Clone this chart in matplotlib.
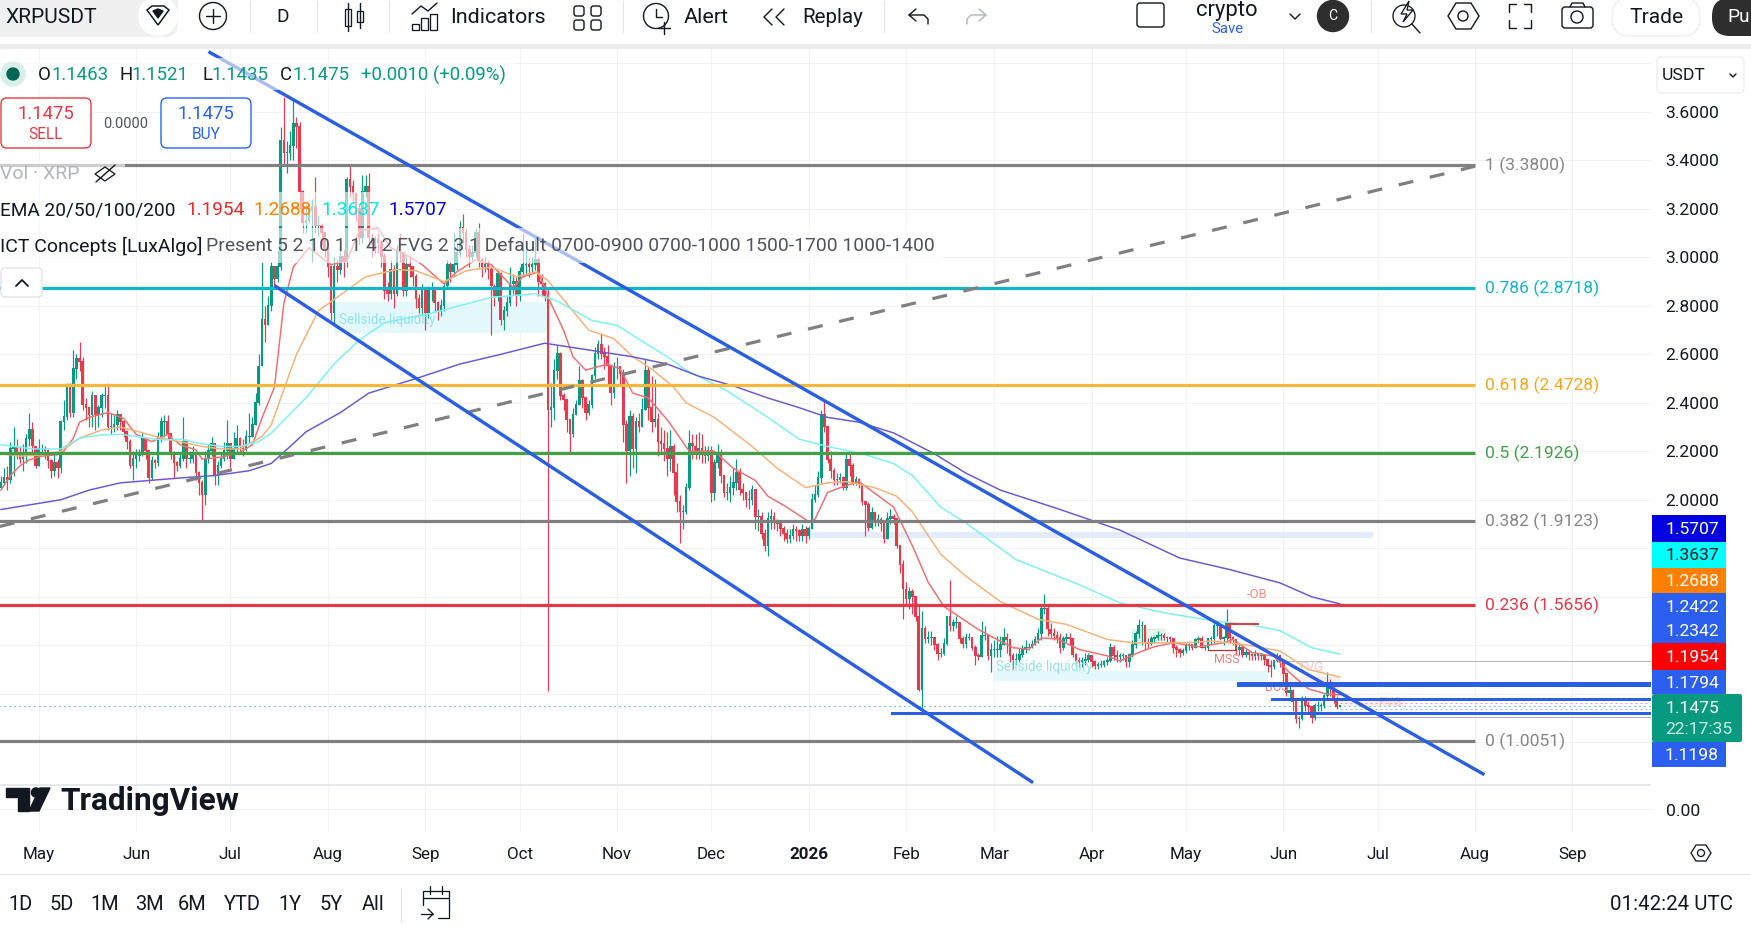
import numpy as np
from matplotlib import pyplot as plt
from matplotlib.patches import Circle, FancyBboxPatch, Polygon, Rectangle

plt.rcParams['font.family'] = ['Roboto', 'DejaVu Sans']

# daily closes / highs / lows, Apr 2025 to Jun 2026, one row of ten per line
close_a = [2.07, 2.09, 2.08, 2.21, 2.22, 2.19, 2.17, 2.19, 2.25, 2.29,
           2.22, 2.14, 2.21, 2.21, 2.20, 2.16, 2.12, 2.15, 2.13, 2.32,
           2.34, 2.47, 2.36, 2.54, 2.58, 2.57, 2.39, 2.38, 2.35, 2.43,
           2.35, 2.38, 2.43, 2.43, 2.30, 2.30, 2.31, 2.35, 2.32, 2.28,
           2.24, 2.14, 2.17, 2.18, 2.19, 2.25, 2.20, 2.09, 2.16, 2.15,
           2.26, 2.32, 2.32, 2.27, 2.19, 2.15, 2.14, 2.17, 2.24, 2.17,
           2.17, 2.18, 2.11, 2.07, 2.02, 2.17, 2.20, 2.23, 2.10, 2.14,
           2.17, 2.20, 2.23, 2.17, 2.21, 2.25, 2.22, 2.21, 2.26, 2.26,
           2.31, 2.40, 2.55]
high_a = [2.10, 2.13, 2.14, 2.24, 2.30, 2.25, 2.22, 2.23, 2.27, 2.36,
          2.32, 2.22, 2.25, 2.23, 2.22, 2.21, 2.17, 2.19, 2.17, 2.33,
          2.41, 2.48, 2.48, 2.62, 2.60, 2.65, 2.59, 2.42, 2.38, 2.45,
          2.43, 2.39, 2.44, 2.47, 2.48, 2.36, 2.35, 2.37, 2.35, 2.33,
          2.29, 2.25, 2.20, 2.21, 2.21, 2.28, 2.25, 2.20, 2.18, 2.17,
          2.28, 2.34, 2.35, 2.35, 2.27, 2.20, 2.16, 2.19, 2.34, 2.25,
          2.20, 2.22, 2.18, 2.12, 2.08, 2.20, 2.23, 2.26, 2.20, 2.16,
          2.19, 2.24, 2.33, 2.23, 2.28, 2.31, 2.26, 2.25, 2.29, 2.36,
          2.34, 2.44, 2.60]
low_a = [2.05, 2.06, 2.04, 2.07, 2.10, 2.17, 2.15, 2.12, 2.15, 2.22,
         2.19, 2.13, 2.16, 2.19, 2.17, 2.13, 2.09, 2.10, 2.09, 2.11,
         2.29, 2.33, 2.34, 2.34, 2.50, 2.53, 2.37, 2.33, 2.30, 2.30,
         2.29, 2.30, 2.34, 2.38, 2.29, 2.27, 2.28, 2.29, 2.29, 2.26,
         2.21, 2.13, 2.08, 2.13, 2.16, 2.18, 2.17, 2.07, 2.08, 2.13,
         2.14, 2.24, 2.26, 2.25, 2.17, 2.09, 2.12, 2.13, 2.16, 2.13,
         2.15, 2.15, 2.08, 2.02, 1.91, 1.98, 2.15, 2.18, 2.06, 2.06,
         2.13, 2.16, 2.17, 2.13, 2.17, 2.19, 2.19, 2.18, 2.20, 2.24,
         2.28, 2.31, 2.39]

close_b = [2.74, 2.72, 2.80, 2.96, 2.91, 2.96, 3.48, 3.43, 3.43, 3.46,
           3.55, 3.54, 3.27, 3.14, 3.15, 3.19, 3.21, 3.13, 3.13, 3.10,
           3.03, 2.96, 2.77, 2.96, 2.95, 3.00, 2.98, 3.32, 3.29, 3.26,
           3.20, 3.08, 3.27, 3.29, 3.08, 3.05, 3.07, 3.06, 3.00, 2.86,
           2.85, 2.95, 2.85, 3.03, 3.02, 2.86, 2.97, 2.96, 2.92, 2.83,
           2.79, 2.86, 2.77, 2.87, 2.87, 2.81, 2.78, 2.80, 2.88, 2.97,
           2.94, 2.97, 3.02, 3.12, 3.10, 3.03, 3.00, 3.02, 3.10, 2.99,
           2.96, 2.97, 2.95, 2.88, 2.84, 2.93, 2.74, 2.78, 2.81, 2.89,
           2.90, 2.84, 2.94, 2.97, 2.97, 2.96, 2.97, 2.99, 2.90, 2.89,
           2.84]
high_b = [2.98, 2.80, 2.84, 2.98, 2.96, 3.03, 3.54, 3.66, 3.48, 3.52,
          3.65, 3.58, 3.56, 3.28, 3.22, 3.22, 3.24, 3.33, 3.17, 3.14,
          3.10, 3.05, 2.97, 3.00, 2.99, 3.06, 3.03, 3.33, 3.38, 3.32,
          3.27, 3.22, 3.34, 3.34, 3.35, 3.10, 3.09, 3.10, 3.07, 3.02,
          2.90, 2.99, 2.97, 3.05, 3.10, 3.02, 3.01, 3.00, 2.96, 2.93,
          2.85, 2.89, 2.84, 2.88, 2.90, 2.87, 2.82, 2.83, 2.90, 2.99,
          2.98, 3.10, 3.06, 3.15, 3.18, 3.12, 3.05, 3.05, 3.12, 3.14,
          3.00, 3.00, 2.99, 2.96, 2.89, 2.95, 2.94, 2.80, 2.84, 2.96,
          2.93, 2.92, 2.96, 3.10, 3.03, 3.00, 3.00, 3.08, 3.00, 2.93,
          2.90]
low_b = [2.60, 2.65, 2.72, 2.78, 2.88, 2.90, 2.95, 3.38, 3.35, 3.40,
         3.40, 3.45, 3.20, 3.10, 3.10, 3.14, 2.98, 3.10, 3.09, 3.05,
         3.00, 2.92, 2.74, 2.72, 2.90, 2.93, 2.92, 2.96, 3.25, 3.22,
         3.15, 3.05, 3.06, 3.25, 3.04, 3.00, 3.02, 3.02, 2.96, 2.83,
         2.82, 2.83, 2.79, 2.84, 2.98, 2.84, 2.84, 2.92, 2.88, 2.79,
         2.75, 2.76, 2.70, 2.75, 2.82, 2.78, 2.74, 2.76, 2.78, 2.87,
         2.90, 2.92, 2.95, 3.00, 3.06, 3.00, 2.96, 2.98, 3.00, 2.96,
         2.92, 2.94, 2.91, 2.68, 2.80, 2.82, 2.72, 2.70, 2.76, 2.80,
         2.85, 2.80, 2.82, 2.92, 2.93, 2.92, 2.94, 2.95, 2.84, 2.84,
         2.82]

close_c = [2.37, 2.38, 2.53, 2.60, 2.43, 2.41, 2.33, 2.27, 2.35, 2.39,
           2.49, 2.42, 2.36, 2.39, 2.51, 2.60, 2.64, 2.60, 2.59, 2.55,
           2.44, 2.55, 2.55, 2.52, 2.31, 2.20, 2.34, 2.21, 2.32, 2.30,
           2.37, 2.53, 2.38, 2.32, 2.33, 2.24, 2.23, 2.21, 2.17, 2.22,
           2.11, 1.99, 1.95, 1.95, 2.05, 2.23, 2.22, 2.20, 2.21, 2.19,
           2.18, 2.20, 2.03, 2.15, 2.19, 2.10, 2.03, 2.03, 2.05, 2.07,
           2.11, 2.04, 2.03, 2.00, 2.00, 2.04, 1.93, 1.93, 1.86, 1.81,
           1.92, 1.93, 1.905, 1.90, 1.88, 1.86, 1.84, 1.85, 1.875, 1.87,
           1.85, 1.875, 1.85, 1.88]
high_c = [2.87, 2.48, 2.58, 2.64, 2.61, 2.44, 2.41, 2.33, 2.38, 2.41,
          2.55, 2.50, 2.42, 2.41, 2.52, 2.63, 2.66, 2.69, 2.63, 2.64,
          2.55, 2.57, 2.59, 2.55, 2.54, 2.33, 2.37, 2.36, 2.34, 2.36,
          2.42, 2.58, 2.55, 2.51, 2.50, 2.36, 2.30, 2.29, 2.28, 2.29,
          2.23, 2.15, 2.02, 1.98, 2.07, 2.29, 2.27, 2.27, 2.28, 2.27,
          2.22, 2.22, 2.22, 2.17, 2.23, 2.21, 2.10, 2.07, 2.10, 2.13,
          2.17, 2.13, 2.07, 2.03, 2.04, 2.06, 2.04, 1.96, 1.95, 1.88,
          1.95, 1.96, 1.95, 1.92, 1.91, 1.89, 1.88, 1.88, 1.90, 1.89,
          1.88, 1.90, 1.89, 1.89]
low_c = [1.21, 2.30, 2.33, 2.50, 2.41, 2.37, 2.28, 2.19, 2.26, 2.35,
         2.40, 2.38, 2.33, 2.35, 2.38, 2.50, 2.58, 2.58, 2.54, 2.47,
         2.39, 2.42, 2.50, 2.47, 2.24, 2.07, 2.10, 2.13, 2.11, 2.28,
         2.30, 2.37, 2.33, 2.28, 2.30, 2.18, 2.19, 2.16, 2.10, 2.12,
         2.02, 1.95, 1.82, 1.88, 1.94, 2.04, 2.17, 2.17, 2.17, 2.15,
         2.15, 2.16, 1.99, 2.00, 2.13, 2.07, 2.01, 2.00, 1.99, 2.02,
         2.04, 2.02, 2.00, 1.97, 1.96, 1.98, 1.88, 1.87, 1.84, 1.79,
         1.77, 1.88, 1.88, 1.87, 1.85, 1.83, 1.82, 1.82, 1.84, 1.83,
         1.83, 1.83, 1.82, 1.84]

close_d = [2.00, 2.02, 2.09, 2.35, 2.30, 2.165, 2.12, 2.08, 2.08, 2.09,
           2.05, 2.165, 2.14, 2.07, 2.08, 2.06, 1.99, 1.98, 1.885, 1.945,
           1.91, 1.915, 1.90, 1.84, 1.92, 1.93, 1.92, 1.81, 1.73, 1.63,
           1.59, 1.62, 1.60, 1.515, 1.215, 1.466, 1.425, 1.43, 1.43, 1.40,
           1.365, 1.365, 1.405, 1.515, 1.48, 1.49, 1.49, 1.425, 1.405, 1.43,
           1.43, 1.39, 1.355, 1.35, 1.44, 1.44, 1.355, 1.38, 1.38, 1.38,
           1.40, 1.43, 1.42]
high_d = [2.03, 2.06, 2.12, 2.37, 2.41, 2.31, 2.20, 2.13, 2.11, 2.11,
          2.10, 2.19, 2.19, 2.15, 2.10, 2.09, 2.06, 1.99, 1.99, 1.97,
          1.95, 1.94, 1.93, 1.91, 1.95, 1.96, 1.94, 1.92, 1.81, 1.75,
          1.66, 1.64, 1.63, 1.60, 1.56, 1.54, 1.48, 1.46, 1.46, 1.43,
          1.41, 1.39, 1.43, 1.52, 1.67, 1.51, 1.52, 1.49, 1.44, 1.45,
          1.45, 1.43, 1.40, 1.37, 1.50, 1.48, 1.44, 1.41, 1.42, 1.44,
          1.44, 1.47, 1.45]
low_d = [1.97, 1.99, 2.01, 2.07, 2.28, 2.15, 2.09, 2.06, 2.06, 2.07,
         2.04, 2.04, 2.10, 2.06, 2.06, 2.05, 1.98, 1.85, 1.87, 1.88,
         1.89, 1.89, 1.87, 1.82, 1.84, 1.90, 1.90, 1.80, 1.70, 1.51,
         1.56, 1.55, 1.53, 1.50, 1.21, 1.14, 1.41, 1.41, 1.40, 1.38,
         1.34, 1.35, 1.36, 1.40, 1.46, 1.46, 1.47, 1.41, 1.39, 1.39,
         1.42, 1.38, 1.32, 1.34, 1.35, 1.42, 1.34, 1.29, 1.35, 1.35,
         1.35, 1.40, 1.37]

close_e = [1.355, 1.34, 1.34, 1.36, 1.38, 1.39, 1.39, 1.40, 1.42, 1.445,
           1.548, 1.55, 1.465, 1.445, 1.44, 1.43, 1.39, 1.425, 1.43, 1.425,
           1.36, 1.335, 1.33, 1.335, 1.34, 1.355, 1.33, 1.315, 1.32, 1.32,
           1.33, 1.335, 1.39, 1.355, 1.35, 1.355, 1.355, 1.33, 1.36, 1.40,
           1.445, 1.48, 1.48, 1.41, 1.405, 1.425, 1.43, 1.44, 1.44, 1.43,
           1.43, 1.425, 1.39, 1.38, 1.37, 1.375, 1.40, 1.40, 1.39, 1.42,
           1.425, 1.39, 1.39, 1.425, 1.425, 1.48, 1.48, 1.425, 1.43, 1.486,
           1.43, 1.42, 1.38, 1.39, 1.36, 1.37, 1.36, 1.355, 1.36, 1.355,
           1.355, 1.34, 1.315, 1.31, 1.335, 1.355, 1.33, 1.28, 1.205, 1.21,
           1.165, 1.096, 1.096, 1.18, 1.15, 1.145, 1.10, 1.15, 1.15, 1.15,
           1.19, 1.245, 1.22, 1.18, 1.1465, 1.1475]
high_e = [1.39, 1.37, 1.37, 1.39, 1.40, 1.42, 1.41, 1.42, 1.44, 1.47,
          1.57, 1.61, 1.56, 1.49, 1.47, 1.46, 1.45, 1.44, 1.45, 1.45,
          1.43, 1.37, 1.35, 1.35, 1.37, 1.37, 1.36, 1.34, 1.33, 1.34,
          1.34, 1.35, 1.41, 1.40, 1.38, 1.37, 1.37, 1.36, 1.37, 1.42,
          1.46, 1.51, 1.50, 1.48, 1.43, 1.44, 1.44, 1.46, 1.45, 1.45,
          1.44, 1.44, 1.43, 1.40, 1.39, 1.39, 1.41, 1.41, 1.40, 1.43,
          1.44, 1.44, 1.40, 1.43, 1.44, 1.50, 1.50, 1.49, 1.44, 1.55,
          1.49, 1.44, 1.42, 1.41, 1.40, 1.39, 1.38, 1.37, 1.38, 1.37,
          1.37, 1.36, 1.34, 1.34, 1.34, 1.37, 1.36, 1.33, 1.28, 1.23,
          1.22, 1.18, 1.11, 1.19, 1.19, 1.17, 1.15, 1.16, 1.17, 1.16,
          1.20, 1.29, 1.26, 1.23, 1.19, 1.1521]
low_e = [1.33, 1.30, 1.32, 1.33, 1.35, 1.37, 1.38, 1.39, 1.40, 1.41,
         1.42, 1.53, 1.44, 1.43, 1.42, 1.41, 1.37, 1.38, 1.41, 1.40,
         1.35, 1.31, 1.31, 1.31, 1.32, 1.33, 1.31, 1.30, 1.30, 1.31,
         1.31, 1.32, 1.33, 1.34, 1.33, 1.33, 1.34, 1.31, 1.31, 1.35,
         1.39, 1.43, 1.40, 1.38, 1.39, 1.40, 1.41, 1.42, 1.42, 1.42,
         1.41, 1.41, 1.37, 1.35, 1.35, 1.36, 1.37, 1.38, 1.38, 1.39,
         1.41, 1.40, 1.38, 1.38, 1.40, 1.41, 1.44, 1.42, 1.40, 1.42,
         1.41, 1.40, 1.36, 1.36, 1.35, 1.35, 1.34, 1.34, 1.34, 1.34,
         1.34, 1.32, 1.29, 1.27, 1.30, 1.33, 1.31, 1.25, 1.19, 1.18,
         1.13, 1.08, 1.06, 1.09, 1.13, 1.12, 1.08, 1.09, 1.13, 1.13,
         1.14, 1.18, 1.19, 1.16, 1.135, 1.1435]
first_open = 2.05
last_open = 1.1463

# EMA readings as (day index, price)
ema20_days = [0, 3, 6, 9, 13, 18, 20, 23, 25, 28, 34, 39, 43, 48, 53, 57, 62, 64, 70, 76, 80, 83, 87, 90,
              93, 98, 105, 110, 114, 120, 124, 129, 134, 141, 145, 151, 156, 163, 166, 171, 175, 179, 182,
              186, 193, 197, 201, 206, 212, 215, 219, 227, 233, 240, 244, 250, 257, 259, 263, 267, 273,
              284, 290, 295, 300, 311, 316, 322, 327, 331, 336, 343, 352, 356, 362, 367, 373, 381, 389,
              392, 398, 405, 410, 416, 422, 426]
ema20 = [2.04, 2.10, 2.14, 2.165, 2.18, 2.186, 2.20, 2.254, 2.32, 2.34, 2.36, 2.336, 2.27, 2.24, 2.27, 2.227,
         2.206, 2.168, 2.176, 2.195, 2.227, 2.336, 2.465, 2.81, 2.96, 3.04, 2.97, 2.985, 3.11, 3.12, 3.04,
         3.01, 2.97, 2.89, 2.94, 2.99, 2.97, 2.875, 2.92, 2.94, 2.81, 2.70, 2.59, 2.535, 2.56, 2.54, 2.44,
         2.42, 2.33, 2.275, 2.20, 2.20, 2.13, 2.08, 2.015, 1.97, 1.91, 1.92, 2.03, 2.05, 2.075, 1.97, 1.81,
         1.66, 1.56, 1.465, 1.43, 1.39, 1.383, 1.43, 1.426, 1.383, 1.356, 1.335, 1.37, 1.394, 1.41, 1.394,
         1.41, 1.424, 1.37, 1.355, 1.287, 1.22, 1.198, 1.1954]
ema50_days = [0, 6, 13, 19, 25, 32, 38, 44, 51, 57, 64, 70, 76, 83, 86, 94, 101, 116, 126, 132, 141, 148, 156,
              164, 170, 174, 180, 187, 195, 201, 207, 214, 218, 227, 239, 247, 256, 263, 269, 278, 285, 290,
              299, 307, 318, 330, 339, 352, 360, 375, 386, 397, 407, 416, 426]
ema50 = [2.19, 2.18, 2.185, 2.20, 2.254, 2.288, 2.30, 2.28, 2.254, 2.24, 2.22, 2.21, 2.21, 2.26, 2.31, 2.60,
         2.78, 2.92, 2.95, 2.945, 2.90, 2.945, 2.96, 2.92, 2.94, 2.905, 2.81, 2.70, 2.665, 2.59, 2.54, 2.465,
         2.40, 2.34, 2.22, 2.13, 2.05, 2.07, 2.075, 2.05, 2.015, 1.95, 1.775, 1.685, 1.58, 1.507, 1.486,
         1.424, 1.41, 1.41, 1.417, 1.40, 1.376, 1.30, 1.2688]
ema100_days = [0, 10, 19, 25, 32, 38, 44, 51, 57, 63, 70, 76, 82, 86, 97, 106, 114, 122, 137, 156, 170, 177,
               188, 196, 205, 212, 218, 231, 244, 254, 263, 274, 284, 290, 299, 307, 318, 323, 331, 343, 356,
               370, 386, 397, 407, 417, 426]
ema100 = [2.227, 2.21, 2.21, 2.254, 2.268, 2.27, 2.26, 2.247, 2.25, 2.233, 2.22, 2.22, 2.24, 2.275, 2.42,
          2.56, 2.66, 2.73, 2.77, 2.835, 2.85, 2.82, 2.74, 2.72, 2.646, 2.59, 2.535, 2.45, 2.34, 2.25, 2.22,
          2.19, 2.15, 2.10, 1.97, 1.905, 1.80, 1.753, 1.712, 1.65, 1.575, 1.534, 1.50, 1.486, 1.46, 1.39,
          1.3637]
ema200_days = [0, 19, 28, 38, 57, 68, 79, 86, 92, 97, 108, 117, 132, 146, 159, 173, 191, 201, 212, 222, 233,
               244, 254, 263, 273, 284, 297, 307, 318, 337, 356, 375, 391, 407, 417, 426]
ema200 = [1.96, 2.00, 2.04, 2.07, 2.09, 2.10, 2.12, 2.15, 2.22, 2.28, 2.36, 2.44, 2.50, 2.56, 2.60, 2.646,
          2.61, 2.59, 2.56, 2.51, 2.47, 2.42, 2.38, 2.34, 2.32, 2.276, 2.19, 2.11, 2.04, 1.96, 1.875, 1.76,
          1.712, 1.657, 1.60, 1.5707]

# fib retracement
fib_ratios = ['1', '0.786', '0.618', '0.5', '0.382', '0.236', '0']
fib_prices = [3.38, 2.8718, 2.4728, 2.1926, 1.9123, 1.5656, 1.0051]
fib_colors = ['#808080', '#14b4c8', '#f6b83a', '#43a047', '#808080', '#e53946', '#808080']
fib_text_colors = ['#868686', '#14b4c8', '#f5a623', '#43a047', '#868686', '#e53946', '#868686']

# hand drawn trend lines, ((day, price), (day, price))
channel_top = ((66, 3.849), (472, 0.866))
channel_bottom = ((87, 2.884), (328.4, 0.833))
fib_trend = ((-0.4, 1.89), (469, 3.376))

month_days = [12, 43, 73, 104, 135, 165, 196, 226, 257, 288, 316, 347, 377, 408, 438, 469, 500]
month_names = ['May', 'Jun', 'Jul', 'Aug', 'Sep', 'Oct', 'Nov', 'Dec', '2026', 'Feb', 'Mar', 'Apr', 'May',
               'Jun', 'Jul', 'Aug', 'Sep']
price_ticks = [2.0, 2.2, 2.4, 2.6, 2.8, 3.0, 3.2, 3.4, 3.6]
minor_grid = [1.0, 1.2, 1.4, 1.6, 1.8, 3.8]

tag_values = ['1.5707', '1.3637', '1.2688', '1.2422', '1.2342', '1.1954', '1.1794', '1.1198']
tag_colors = ['#0000e0', '#00ffff', '#ff7f00', '#2c5ff0', '#2c5ff0', '#ff0000', '#2c5ff0', '#2c5ff0']
tag_text_colors = ['white', '#131722', 'white', 'white', 'white', 'white', 'white', 'white']

range_buttons = ['1D', '5D', '1M', '3M', '6M', 'YTD', '1Y', '5Y', 'All']

GREEN = '#089981'
RED = '#e83a4d'
BLUE = '#2b5fe3'
INK = '#131722'


def pt(px):
    """Pixels to points at the figure's 100 dpi"""
    return px * 0.72


def draw_candles(ax):
    closes = np.array(close_a + close_b + close_c + close_d + close_e)
    highs = np.array(high_a + high_b + high_c + high_d + high_e)
    lows = np.array(low_a + low_b + low_c + low_d + low_e)
    opens = np.concatenate(([first_open], closes[:-1]))
    opens[-1] = last_open
    days = np.arange(len(closes))
    colors = np.where(closes >= opens, GREEN, RED)
    ax.vlines(days, np.minimum(lows, np.minimum(opens, closes)), np.maximum(highs, np.maximum(opens, closes)),
              colors=colors, lw=pt(1.2), zorder=3)
    ax.bar(days, np.abs(closes - opens) + 0.004, bottom=np.minimum(opens, closes), width=0.8, color=colors,
           linewidth=0, zorder=3)


def draw_overlays(ax):
    # liquidity and imbalance zones
    ax.add_patch(Rectangle((106, 2.687), 68, 0.128, color='#e4f8fb', lw=0, zorder=1.5))
    ax.add_patch(Rectangle((315.5, 1.254), 87.5, 0.041, color='#e4f8fb', lw=0, zorder=1.5))
    ax.add_patch(Rectangle((257, 1.842), 179.5, 0.024, color='#e3ecfd', lw=0, zorder=1.5))
    ax.text(107.5, 2.74, 'Sellside liquidity', color='#8fe3ee', fontsize=pt(13.5), va='center', zorder=6)
    ax.text(316.5, 1.31, 'Sellside liquidity', color='#8fe3ee', fontsize=pt(13.5), va='center', zorder=6)
    ax.add_patch(Rectangle((360, 1.42), 10, 0.045, facecolor='#e8f7ee', edgecolor='#d3f0df', lw=0.7, zorder=2))

    # order block / structure marks
    ax.plot([390.5, 400], [1.488, 1.488], color='#e53946', lw=pt(2), zorder=6)
    ax.plot([390.5, 390.5], [1.488, 1.43], color='#e53946', lw=pt(1.2), zorder=6)
    ax.plot([384, 393], [1.381, 1.381], color='#c62828', lw=pt(1.2), zorder=6)
    ax.text(399.5, 1.61, '-OB', color='#f28b82', fontsize=pt(13), ha='center', va='center', zorder=6)
    ax.text(390, 1.34, 'MSS', color='#f08080', fontsize=pt(12.5), ha='center', va='center', zorder=6)
    ax.text(406, 1.225, 'BOS', color='#f08080', fontsize=pt(12.5), ha='center', va='center', zorder=6)
    ax.add_patch(Rectangle((409, 1.225), 17, 0.045, facecolor='#fdecee', edgecolor='none', zorder=2))
    ax.add_patch(Rectangle((427, 1.15), 20, 0.03, facecolor='#fdecee', edgecolor='none', zorder=2, alpha=0.8))
    ax.text(417, 1.31, 'FVG', color='#f8c4c4', fontsize=pt(13), ha='center', va='center', zorder=6)
    ax.text(442, 1.165, 'FVG', color='#f8c4c4', fontsize=pt(12), ha='center', va='center', zorder=6)


def draw_levels(ax):
    ax.plot(ema20_days, ema20, color='#ef7072', lw=pt(1.5), zorder=4)
    ax.plot(ema50_days, ema50, color='#f7b27a', lw=pt(1.5), zorder=4)
    ax.plot(ema100_days, ema100, color='#7ff0f2', lw=pt(1.5), zorder=4)
    ax.plot(ema200_days, ema200, color='#6a5ad6', lw=pt(1.5), zorder=4)

    for ratio, price, color, text_color in zip(fib_ratios, fib_prices, fib_colors, fib_text_colors):
        ax.plot([-1, 469], [price, price], color=color, lw=pt(3.2), solid_capstyle='butt', zorder=5)
        ax.text(472.3, price, f'{ratio} ({price:.4f})', color=text_color, fontsize=pt(17.5), va='center', zorder=6)

    (x0, y0), (x1, y1) = fib_trend
    ax.plot([x0, x1], [y0, y1], color='#808080', lw=pt(3.2), linestyle=(0, (4.7, 5.3)), zorder=5)

    for (x0, y0), (x1, y1) in (channel_top, channel_bottom):
        ax.plot([x0, x1], [y0, y1], color=BLUE, lw=pt(3.4), solid_capstyle='butt', zorder=7)

    # horizontal rays running into the price scale
    right = 526
    ax.plot([393.5, right], [1.2422, 1.2422], color=BLUE, lw=pt(3), zorder=7)
    ax.plot([393.5, right], [1.2342, 1.2342], color=BLUE, lw=pt(3), zorder=7)
    ax.plot([404.5, right], [1.1794, 1.1794], color=BLUE, lw=pt(3), zorder=7)
    ax.plot([283.5, right], [1.1198, 1.1198], color=BLUE, lw=pt(3), zorder=7)
    ax.plot([409, right], [1.336, 1.336], color='#b2b5be', lw=pt(1), zorder=2)
    ax.plot([418, right], [1.103, 1.103], color='#b2b5be', lw=pt(1.2), zorder=2)
    ax.plot([426, right], [1.163, 1.163], color='#f2a0a8', lw=pt(1), linestyle=(0, (2, 3)), zorder=2)
    ax.plot([426, right], [1.135, 1.135], color='#9ab3f0', lw=pt(1), linestyle=(0, (2, 3)), zorder=2)
    ax.plot([-1, right], [1.1475, 1.1475], color=GREEN, lw=pt(1), linestyle=(0, (1, 4)), zorder=2)


def pill(ui, x0, y0, x1, y1, face='white', edge='none', radius=5, lw=1.0, zorder=2):
    ui.add_patch(FancyBboxPatch((x0 + radius, y0 + radius), x1 - x0 - 2 * radius, y1 - y0 - 2 * radius,
                                boxstyle=f'round,pad={radius}', facecolor=face, edgecolor=edge, lw=lw, zorder=zorder))


def stroke(ui, xs, ys, color=INK, lw=1.4):
    ui.plot(xs, ys, color=color, lw=pt(lw), solid_capstyle='round', zorder=4)


def draw_toolbar(ui):
    ui.add_patch(Rectangle((0, 44), 1751, 5, color='#ececec', lw=0, zorder=2))
    pill(ui, -20, -12, 178, 37, face='#f0f0f0', radius=14)
    ui.add_patch(Circle((158, 16), 20, facecolor='white', edgecolor='none', zorder=3))
    ui.text(5, 17, 'XRPUSDT', fontsize=pt(21), color=INK, va='center', zorder=4)

    # watchlist diamond
    ui.add_patch(Polygon([(147, 10), (152, 6), (164, 6), (169, 10), (158, 25)], closed=True, fill=False,
                         edgecolor=INK, lw=pt(1.5), zorder=4))
    ui.add_patch(Polygon([(153, 11), (158, 9), (163, 11), (158, 18)], closed=True, color=INK, zorder=4))
    ui.add_patch(Circle((213, 16), 13.5, fill=False, edgecolor=INK, lw=pt(1.4), zorder=4))
    stroke(ui, [206, 220], [16, 16])
    stroke(ui, [213, 213], [9, 23])
    ui.text(283, 17, 'D', fontsize=pt(19), color=INK, ha='center', va='center', zorder=4)
    for x in (250, 317, 389, 623, 884, 1371):
        stroke(ui, [x, x], [1, 32], color='#e0e3eb', lw=1)

    # candle icon
    ui.add_patch(Rectangle((345, 9), 6, 17, fill=False, edgecolor=INK, lw=pt(1.3), zorder=4))
    ui.add_patch(Rectangle((357, 11), 6, 11, fill=False, edgecolor=INK, lw=pt(1.3), zorder=4))
    stroke(ui, [348, 348], [3, 31])
    stroke(ui, [360, 360], [3, 28])

    # indicators icon
    for x, top in ((412, 24), (421, 18), (430, 14)):
        ui.add_patch(Rectangle((x, top), 7, 30 - top, fill=False, edgecolor=INK, lw=pt(1.3), zorder=4))
    stroke(ui, [412, 421, 428, 437], [14, 6, 11, 3])
    ui.text(450, 17, 'Indicators', fontsize=pt(21.5), color=INK, va='center', zorder=4)

    for x in (574, 591):
        for y in (6, 20):
            pill(ui, x, y, x + 10, y + 10, face='none', edge=INK, radius=2.5, lw=pt(1.4), zorder=4)

    # alert icon
    ui.add_patch(Circle((656, 16), 12.5, fill=False, edgecolor=INK, lw=pt(1.4), zorder=4))
    stroke(ui, [656, 656, 662], [9, 17, 17])
    stroke(ui, [664, 664], [22, 34])
    stroke(ui, [658, 670], [28, 28])
    ui.text(684, 17, 'Alert', fontsize=pt(21.5), color=INK, va='center', zorder=4)

    # replay icon
    stroke(ui, [772, 764, 772], [9, 17, 25])
    stroke(ui, [784, 776, 784], [9, 17, 25])
    ui.text(802, 17, 'Replay', fontsize=pt(20.5), color=INK, va='center', zorder=4)

    # undo / redo
    stroke(ui, [916, 909, 916], [9, 15, 21])
    stroke(ui, [909, 924, 928, 928], [15, 15, 19, 24])
    stroke(ui, [979, 986, 979], [9, 15, 21], color='#b2b5be')
    stroke(ui, [986, 971, 967, 967], [15, 15, 19, 24], color='#b2b5be')

    pill(ui, 1137, 3, 1164, 27, face='none', edge=INK, radius=3, lw=pt(1.4), zorder=4)
    ui.text(1227, 10, 'crypto', fontsize=pt(22), color=INK, ha='center', va='center', zorder=4)
    ui.text(1227, 29, 'Save', fontsize=pt(15), color='#2962ff', ha='center', va='center', zorder=4)
    stroke(ui, [1290, 1295, 1300], [14, 19, 14])
    ui.add_patch(Circle((1333, 16), 15.5, color='#2e2e2e', zorder=4))
    ui.text(1333, 16, 'C', fontsize=pt(14), color='white', ha='center', va='center', zorder=5)

    # quick search bolt
    ui.add_patch(Circle((1404, 16), 11, fill=False, edgecolor=INK, lw=pt(1.3), zorder=4))
    ui.add_patch(Polygon([(1409, 1), (1401, 14), (1407, 14), (1403, 22), (1413, 10), (1407, 10)], closed=True,
                         facecolor='white', edgecolor=INK, lw=pt(1.3), zorder=4))
    stroke(ui, [1412, 1420], [24, 33])

    # settings hexagon
    ui.add_patch(Polygon([(1448, 16), (1456, 3), (1471, 3), (1479, 16), (1471, 29), (1456, 29)], closed=True,
                         fill=False, edgecolor=INK, lw=pt(1.4), zorder=4))
    ui.add_patch(Circle((1463, 16), 5, fill=False, edgecolor=INK, lw=pt(1.4), zorder=4))

    # fullscreen corners
    for sx, sy in ((-1, -1), (1, -1), (-1, 1), (1, 1)):
        stroke(ui, [1520 + sx * 4, 1520 + sx * 11, 1520 + sx * 11], [16 + sy * 12, 16 + sy * 12, 16 + sy * 4])

    # camera
    pill(ui, 1562, 7, 1593, 28, face='none', edge=INK, radius=3, lw=pt(1.4), zorder=4)
    stroke(ui, [1570, 1572, 1583, 1585], [7, 3, 3, 7])
    ui.add_patch(Circle((1577, 17), 6, fill=False, edgecolor=INK, lw=pt(1.4), zorder=4))

    pill(ui, 1612, -2, 1700, 36, face='white', edge='#eeeeee', radius=18, zorder=3)
    ui.text(1656, 17, 'Trade', fontsize=pt(21), color=INK, ha='center', va='center', zorder=4)
    pill(ui, 1712, -2, 1790, 36, face='#2e2e2e', radius=18, zorder=3)
    ui.text(1727, 17, 'Pu', fontsize=pt(19), color='white', va='center', zorder=4)


def draw_legend(ui):
    # translucent rows behind the legend text
    for x0, y0, x1, y1 in ((0, 58, 515, 90), (0, 160, 125, 186), (0, 192, 452, 226), (0, 228, 940, 263)):
        ui.add_patch(Rectangle((x0, y0), x1 - x0, y1 - y0, color='white', alpha=0.6, lw=0, zorder=1))

    ui.add_patch(Circle((13, 74), 12, color='#d9efea', zorder=2))
    ui.add_patch(Circle((13, 74), 6, color='#056656', zorder=3))
    row = 75
    for x, text, color in ((38, 'O', INK), (51, '1.1463', GREEN), (119, 'H', INK), (131, '1.1521', GREEN),
                           (202, 'L', INK), (211, '1.1435', GREEN), (280, 'C', INK), (292, '1.1475', GREEN),
                           (361, '+0.0010 (+0.09%)', GREEN)):
        ui.text(x, row, text, fontsize=pt(18.7), color=color, va='center', zorder=4)

    pill(ui, 1, 98, 91, 148, face='white', edge='#e53946', radius=6, zorder=2)
    pill(ui, 161, 98, 251, 148, face='white', edge='#2962ff', radius=6, zorder=2)
    ui.text(46, 114, '1.1475', fontsize=pt(18.5), color='#e53946', ha='center', va='center', zorder=4)
    ui.text(46, 134, 'SELL', fontsize=pt(15.5), color='#e53946', ha='center', va='center', zorder=4)
    ui.text(126, 124, '0.0000', fontsize=pt(14.5), color='#50535e', ha='center', va='center', zorder=4)
    ui.text(206, 114, '1.1475', fontsize=pt(18.5), color='#2962ff', ha='center', va='center', zorder=4)
    ui.text(206, 134, 'BUY', fontsize=pt(15.5), color='#2962ff', ha='center', va='center', zorder=4)

    ui.text(0, 174, 'Vol · XRP', fontsize=pt(19.5), color='#b2b5be', va='center', zorder=4)
    ui.add_patch(Polygon([(95, 174), (105, 167), (115, 174), (105, 181)], closed=True, fill=False, edgecolor=INK,
                         lw=pt(1.3), zorder=4))
    stroke(ui, [96, 115], [182, 165])

    ui.text(0, 210, 'EMA 20/50/100/200', fontsize=pt(19), color=INK, va='center', zorder=4)
    for x, text, color in ((186, '1.1954', '#ee2a2a'), (253, '1.2688', '#ff7f00'), (321, '1.3637', '#00e5e5'),
                           (388, '1.5707', '#0000e0')):
        ui.text(x, 210, text, fontsize=pt(19), color=color, va='center', zorder=4)

    ui.text(0, 246, 'ICT Concepts [LuxAlgo]', fontsize=pt(19.5), color=INK, va='center', zorder=4)
    ui.text(206, 246, 'Present 5 2 10 1 1 4 2 FVG 2 3 1 Default 0700-0900 0700-1000 1500-1700 1000-1400',
            fontsize=pt(19.3), color='#50535e', va='center', zorder=4)

    pill(ui, 1, 268, 42, 297, face='white', edge='#e0e3eb', radius=4, zorder=4)
    stroke(ui, [16, 22, 28], [286, 280, 286], lw=1.8)

    pill(ui, 1657, 57, 1744, 93, face='white', edge='#eeeeee', radius=5, zorder=2)
    ui.text(1662, 75.5, 'USDT', fontsize=pt(17.5), color=INK, va='center', zorder=4)
    stroke(ui, [1730, 1733, 1736], [74, 77, 74])


def draw_price_tags(ui):
    tops = [515, 542, 568, 593, 619, 643, 670, 742]
    bottoms = [542, 568, 593, 619, 643, 670, 694, 767]
    for top, bottom, value, color, text_color in zip(tops, bottoms, tag_values, tag_colors, tag_text_colors):
        ui.add_patch(Rectangle((1652, top), 74, bottom - top, color=color, lw=0, zorder=3))
        ui.text(1692, (top + bottom) / 2 + 1, value, fontsize=pt(17.5), color=text_color, ha='center', va='center', zorder=5)
    pill(ui, 1652, 694, 1742, 742, face=GREEN, radius=2, zorder=4)
    ui.text(1666, 708.5, '1.1475', fontsize=pt(17.5), color='white', va='center', zorder=5)
    ui.text(1665, 730, '22:17:35', fontsize=pt(17.5), color='#c8efe4', va='center', zorder=5)
    ui.text(1683, 811, '0.00', fontsize=pt(17.5), color=INK, ha='center', va='center', zorder=5)


def draw_footer(ui):
    ui.add_patch(Rectangle((0, 784), 1651, 2, color='#e6e8ee', lw=0, zorder=2))
    ui.add_patch(Rectangle((0, 873.5), 1751, 1.5, color='#e6e8ee', lw=0, zorder=2))
    ui.add_patch(Rectangle((0, 808.5), 1651, 1, color='#f2f3f6', lw=0, zorder=1))

    # TradingView mark
    ui.add_patch(Polygon([(6, 788), (29, 788), (29, 811), (18, 811), (18, 797), (6, 797)], closed=True, color=INK, zorder=4))
    ui.add_patch(Circle((36, 792.5), 4.6, color=INK, zorder=4))
    ui.add_patch(Polygon([(40, 788), (50, 788), (39, 811), (29, 811)], closed=True, color=INK, zorder=4))
    ui.text(60, 801, 'TradingView', fontsize=pt(31.5), color=INK, va='center', fontweight='bold', zorder=4)

    # chart settings gear next to the time scale
    ui.add_patch(Polygon([(1691, 853), (1696, 845), (1706, 845), (1711, 853), (1706, 861), (1696, 861)], closed=True,
                         fill=False, edgecolor=INK, lw=pt(1.3), zorder=4))
    ui.add_patch(Circle((1701, 853), 3.5, fill=False, edgecolor=INK, lw=pt(1.3), zorder=4))

    range_x = [20, 62, 105, 149, 192, 242, 290, 331, 373]
    for x, label in zip(range_x, range_buttons):
        ui.text(x, 904, label, fontsize=pt(20), color=INK, ha='center', va='center', zorder=4)
    stroke(ui, [401, 401], [888, 922], color='#e0e3eb', lw=1)

    # go to date icon
    stroke(ui, [423, 423, 449, 449, 438], [905, 891, 891, 918, 918], lw=1.3)
    stroke(ui, [423, 449], [898, 898], lw=1.3)
    stroke(ui, [430, 430], [886, 894], lw=1.3)
    stroke(ui, [442, 442], [886, 894], lw=1.3)
    stroke(ui, [421, 433], [914, 914], lw=1.3)
    stroke(ui, [428, 433, 428], [909, 914, 919], lw=1.3)

    ui.text(1733, 904, '01:42:24 UTC', fontsize=pt(20.5), color=INK, ha='right', va='center', zorder=4)


fig = plt.figure(figsize=(17.51, 9.27), dpi=100)

# chart pane, 3.143 px per day and 242.4 px per unit of price
ax = fig.add_axes([0, (927 - 832) / 927, 1651 / 1751, (832 - 49) / 927])
ax.set_xlim(-0.32, 525)
ax.set_ylim(2 - (832 - 499.8) / 242.4, 2 + (499.8 - 49) / 242.4)
ax.set_facecolor('white')
for spine in ax.spines.values():
    spine.set_visible(False)
ax.set_xticks(month_days)
ax.set_xticklabels(month_names, fontsize=pt(17), color=INK)
ax.get_xticklabels()[8].set_fontweight('bold')
ax.tick_params(axis='x', length=0, pad=pt(15))
ax.yaxis.tick_right()
ax.set_yticks(price_ticks)
ax.set_yticklabels([f'{p:.4f}' for p in price_ticks], fontsize=pt(17.5), color=INK)
ax.set_yticks(minor_grid, minor=True)
ax.tick_params(axis='y', which='both', length=0, pad=pt(14))
ax.grid(True, which='both', color='#f1f2f6', lw=pt(1))
ax.set_axisbelow(True)

draw_candles(ax)
draw_overlays(ax)
draw_levels(ax)

# page furniture is laid out in screen pixels on a transparent layer
ui = fig.add_axes([0, 0, 1, 1], zorder=5)
ui.set_xlim(0, 1751)
ui.set_ylim(927, 0)
ui.axis('off')

draw_toolbar(ui)
draw_legend(ui)
draw_price_tags(ui)
draw_footer(ui)

plt.savefig('out.png', dpi=100)
